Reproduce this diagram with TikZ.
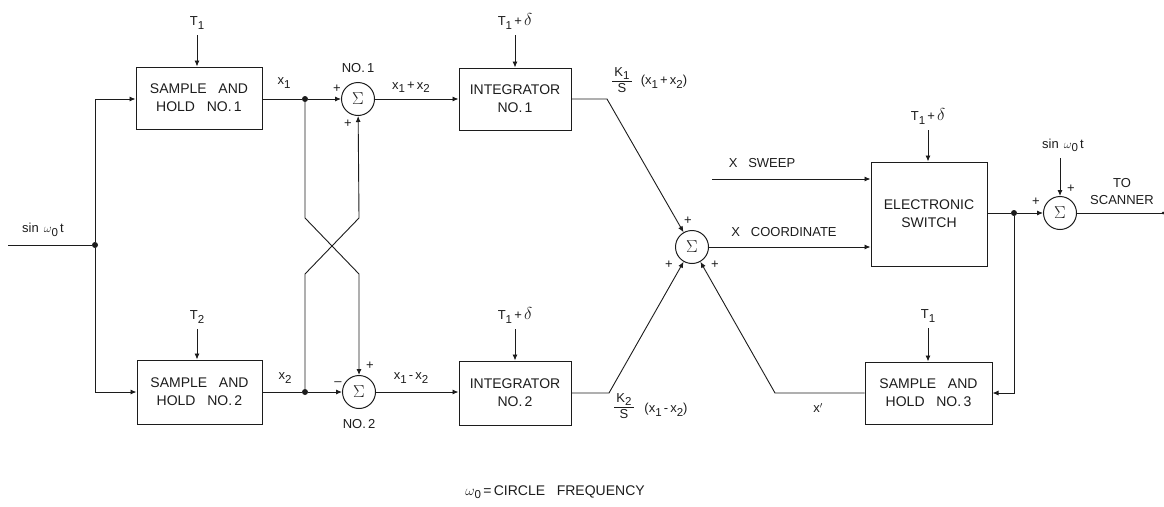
\documentclass[tikz,border=0pt]{standalone}
\usepackage{fontspec}
\setmainfont[WordSpace=3]{Liberation Sans}
\usetikzlibrary{arrows.meta,positioning}
\definecolor{inkline}{HTML}{1C1C1C}
\newcommand{\idx}[1]{\raisebox{-3.5pt}{\fontsize{11.5}{12}\selectfont #1}}
\newcommand{\ratio}[2]{$\displaystyle{\hbox{\fontsize{13}{13}\selectfont\,#1\,}\over\hbox{\fontsize{13}{13}\selectfont\,#2\,}}$}
\newcommand{\dlt}{{\fontsize{17}{17}\selectfont$\delta$}}

\begin{document}
\begin{tikzpicture}[
    x=1pt, y=-1pt,
    every node/.style={inner sep=0pt, text=inkline},
    block/.style={draw=inkline, line width=1pt, rectangle, align=center, font=\fontsize{14}{18}\selectfont},
    sumnode/.style={draw=inkline, line width=1pt, circle, minimum size=33pt, font=\fontsize{19}{19}\selectfont},
    dot/.style={circle, fill=inkline, minimum size=6pt},
    lab/.style={font=\fontsize{13}{17}\selectfont, align=center},
    inp/.style={lab, anchor=south, outer sep=6pt},
    sgn/.style={font=\fontsize{13}{13}\selectfont},
    sig/.style={draw=inkline, line width=0.9pt, -{Latex[length=6pt,width=5pt]}},
    wire/.style={draw=inkline, line width=0.9pt}
    ]
  \useasboundingbox (0,0) rectangle (1164,506);

  % blocks
  \node [block, minimum width=126pt, minimum height=62pt] (sa) at (199,98) {SAMPLE AND\\HOLD NO.\,1};
  \node [block, minimum width=125pt, minimum height=64pt] (sb) at (199.5,392) {SAMPLE AND\\HOLD NO.\,2};
  \node [block, minimum width=127pt, minimum height=62pt] (sc) at (928.5,393) {SAMPLE AND\\HOLD NO.\,3};
  \node [block, minimum width=112pt, minimum height=62pt] (ia) at (515,99) {INTEGRATOR\\NO.\,1};
  \node [block, minimum width=112pt, minimum height=64pt] (ib) at (515,393) {INTEGRATOR\\NO.\,2};
  \node [block, minimum width=116pt, minimum height=104pt] (sw) at (929,214) {ELECTRONIC\\SWITCH};

  \node [sumnode] (sga) at (358,99) {$\Sigma$};
  \node [sumnode] (sgb) at (359,392) {$\Sigma$};
  \node [sumnode] (sgc) at (692,247) {$\Sigma$};
  \node [sumnode] (sgd) at (1060,213) {$\Sigma$};

  \node [dot] (da) at (95,245) {};
  \node [dot] (db) at (305,99) {};
  \node [dot] (dc) at (305,392) {};
  \node [dot] (dd) at (1014,213) {};

  \coordinate (in) at (8,245);
  \coordinate (out) at (1163,213);
  \coordinate (swp) at (712,179);
  \coordinate (xa) at (305,218);
  \coordinate (xb) at (359,274);
  \coordinate (xc) at (305,274);
  \coordinate (xd) at (359,218);
  \coordinate (ka) at (607,99);
  \coordinate (kb) at (609,393);
  \coordinate (kc) at (775,393);

  % timing inputs
  \node [inp] (ta) at (197,35) {T\idx{1}};
  \node [inp] (tb) at (197,329) {T\idx{2}};
  \node [inp] (tc) at (515,35) {T\idx{1}\,+\,\dlt};
  \node [inp] (td) at (515,329) {T\idx{1}\,+\,\dlt};
  \node [inp] (te) at (928,130) {T\idx{1}\,+\,\dlt};
  \node [inp] (tf) at (928,328) {T\idx{1}};
  \node [inp] (tg) at (1063,158) {sin\hspace{5pt}$\omega$\idx{0}\,t};

  % wires
  \draw [wire] (in) -- (da);
  \draw [sig] (da) |- (sa.west |- db);
  \draw [sig] (da) |- (sb.west |- dc);
  \draw [wire] (sa.east |- db) -- (db);
  \draw [sig] (db) -- (sga);
  \draw [wire] (sb.east |- dc) -- (dc);
  \draw [sig] (dc) -- (sgb);
  \draw [sig] (db) -- (xa) -- (xb) -- (sgb);
  \draw [sig] (dc) -- (xc) -- (xd) -- (sga);
  \draw [sig] (sga) -- (ia.west |- sga);
  \draw [sig] (sgb) -- (ib.west |- sgb);
  \draw [sig] (ia) -- (ka) -- (sgc);
  \draw [sig] (ib) -- (kb) -- (sgc);
  \draw [sig] (sc.west) -- (kc) -- (sgc);
  \draw [sig] (swp) -- (sw.west |- swp);
  \draw [sig] (sgc) -- (sw.west |- sgc);
  \draw [wire] (sw.east |- dd) -- (dd);
  \draw [sig] (dd) -- (sgd);
  \draw [sig] (dd) |- (sc.east);
  \draw [wire] (sgd) -- (out);
  \node [dot, minimum size=3pt] (outd) at (out) {};

  \draw [sig] (ta.south) -- (ta.south |- sa.north);
  \draw [sig] (tb.south) -- (tb.south |- sb.north);
  \draw [sig] (tc.south) -- (tc.south |- ia.north);
  \draw [sig] (td.south) -- (td.south |- ib.north);
  \draw [sig] (te.south) -- (te.south |- sw.north);
  \draw [sig] (tf.south) -- (tf.south |- sc.north);
  \draw [sig] (sgd.north |- tg.south) -- (sgd.north);

  % labels
  \node [lab] (lin) at (43,230) {sin\hspace{5pt}$\omega$\idx{0}\,t};
  \node [lab] (lxa) at (284,83) {x\idx{1}};
  \node [lab] (lxb) at (285,378) {x\idx{2}};
  \node [lab] (lsa) at (411,87) {x\idx{1}\,+\,x\idx{2}};
  \node [lab] (lsb) at (411,378) {x\idx{1}\,-\,x\idx{2}};
  \node [lab] (noa) at (358,68) {NO.\,1};
  \node [lab] (nob) at (359,424) {NO.\,2};
  \node [lab] (lka) at (622,80) {\ratio{K\idx{1}}{S}};
  \node [lab] (lkb) at (624,406) {\ratio{K\idx{2}}{S}};
  \node [lab] (lpa) at (664,82) {(x\idx{1}\,+\,x\idx{2})};
  \node [lab] (lpb) at (666,410) {(x\idx{1}\,-\,x\idx{2})};
  \node [lab] (lsw) at (762,163) {X SWEEP};
  \node [lab] (lco) at (784,232) {X COORDINATE};
  \node [lab] (lxp) at (818,408) {x$'$};
  \node [lab] (lto) at (1122,191.5) {TO\\SCANNER};
  \node [lab, font=\fontsize{14}{17}\selectfont] (lom) at (555,492) {$\omega$\idx{0}\,=\,CIRCLE FREQUENCY};

  % signs
  \node [sgn] (pa) at (337,89) {+};
  \node [sgn] (pb) at (348,124) {+};
  \node [sgn] (mc) at (338,384) {–};
  \node [sgn] (pd) at (370,366) {+};
  \node [sgn] (pe) at (688,221) {+};
  \node [sgn] (pf) at (669,265) {+};
  \node [sgn] (pg) at (715,265) {+};
  \node [sgn] (ph) at (1036,202) {+};
  \node [sgn] (pi) at (1071,189) {+};
\end{tikzpicture}
\end{document}
